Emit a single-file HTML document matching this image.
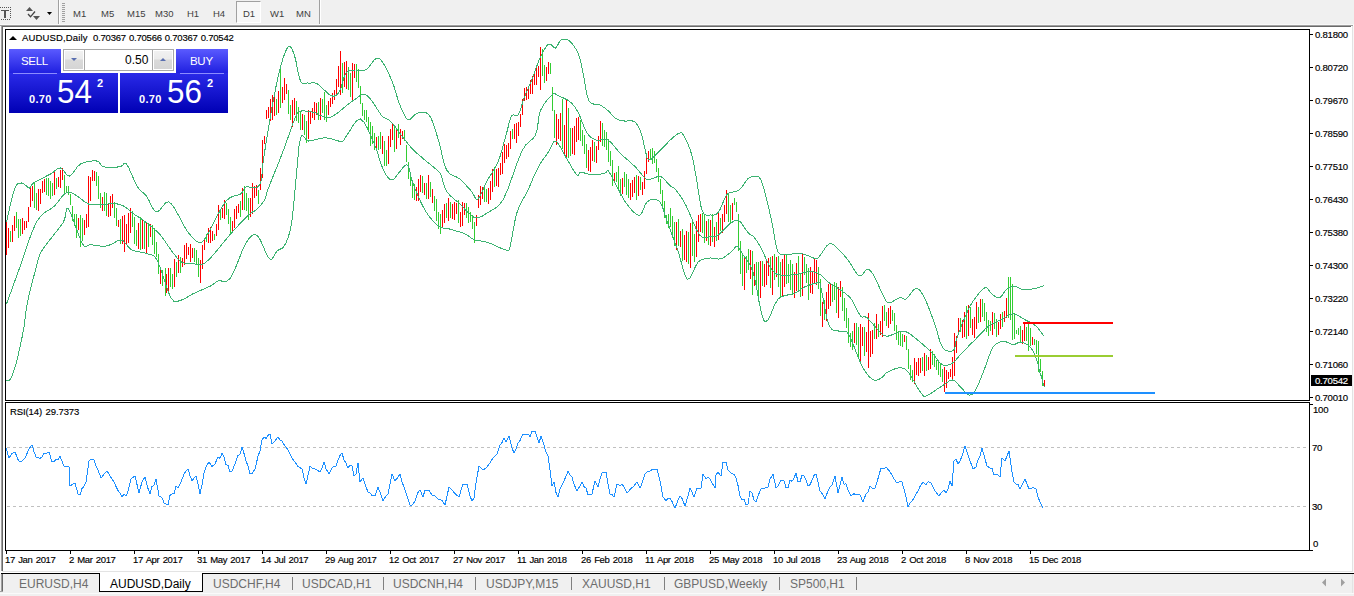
<!DOCTYPE html>
<html><head><meta charset="utf-8">
<style>
*{margin:0;padding:0;box-sizing:border-box}
html,body{width:1354px;height:596px;overflow:hidden;background:#fff;font-family:"Liberation Sans",sans-serif;position:relative}
.a{position:absolute}
.tb{left:0;top:0;width:1354px;height:25px;background:#f0f0f0}
.tf{top:9px;font-size:9.5px;color:#404040;line-height:9px}
.ax{font-size:9.6px;line-height:10px;color:#000;letter-spacing:-0.25px;-webkit-text-stroke:0.15px}
.tl{font-size:9.5px;line-height:10px;color:#000;letter-spacing:-0.35px;word-spacing:1px;-webkit-text-stroke:0.15px}
.tab{top:577px;font-size:12px;line-height:14px;color:#6d6d6d}
</style></head><body>
<!-- toolbar -->
<div class="a tb"></div>
<div class="a" style="left:0;top:25px;width:1353px;height:1px;background:#a0a0a0"></div>
<div class="a" style="left:58px;top:0;width:1px;height:25px;background:#a0a0a0"></div>
<div class="a" style="left:59px;top:0;width:1px;height:25px;background:#fff"></div>
<div class="a" style="left:319px;top:0;width:1px;height:25px;background:#a0a0a0"></div>
<div class="a" style="left:320px;top:0;width:1px;height:25px;background:#fff"></div>
<!-- T icon -->
<svg class="a" style="left:0;top:0" width="60" height="25">
<g fill="#555">
<rect x="0" y="7" width="1" height="1"/><rect x="2" y="7" width="1" height="1"/><rect x="4" y="7" width="1" height="1"/><rect x="6" y="7" width="1" height="1"/><rect x="8" y="7" width="1" height="1"/><rect x="10" y="7" width="1" height="1"/>
<rect x="10" y="9" width="1" height="1"/><rect x="10" y="11" width="1" height="1"/><rect x="10" y="13" width="1" height="1"/><rect x="10" y="15" width="1" height="1"/><rect x="10" y="17" width="1" height="1"/>
<rect x="1" y="19" width="1" height="1"/><rect x="3" y="19" width="1" height="1"/><rect x="5" y="19" width="1" height="1"/><rect x="7" y="19" width="1" height="1"/><rect x="9" y="19" width="1" height="1"/>
<rect x="1" y="10" width="8" height="1"/><rect x="4" y="10" width="2" height="8"/>
<path d="M26 11 L29.5 7 L33 11 Z"/>
<path d="M33 16 L40 16 L36.5 20 Z"/>
<path d="M28 14 L30.5 16.8 L35 11.5" stroke="#444" stroke-width="1.3" fill="none"/>
<path d="M47 12 L52 12 L49.5 15 Z" fill="#000"/>
</g>
<g fill="#999"><rect x="62" y="4" width="3" height="1"/></g>
</svg>
<svg class="a" style="left:62px;top:3px" width="3" height="20">
<g fill="#a0a0a0">
<rect x="0" y="0" width="3" height="1"/><rect x="0" y="2" width="3" height="1"/><rect x="0" y="4" width="3" height="1"/><rect x="0" y="6" width="3" height="1"/><rect x="0" y="8" width="3" height="1"/><rect x="0" y="10" width="3" height="1"/><rect x="0" y="12" width="3" height="1"/><rect x="0" y="14" width="3" height="1"/><rect x="0" y="16" width="3" height="1"/><rect x="0" y="18" width="3" height="1"/>
</g></svg>
<!-- D1 pressed -->
<div class="a" style="left:236px;top:1px;width:25px;height:22px;background:#f7f7f7;border-left:1px solid #a0a0a0;border-top:1px solid #a0a0a0;border-right:1px solid #fff;border-bottom:1px solid #fff"></div>
<div class="a tf" style="left:73px">M1</div>
<div class="a tf" style="left:101px">M5</div>
<div class="a tf" style="left:127px">M15</div>
<div class="a tf" style="left:155px">M30</div>
<div class="a tf" style="left:187px">H1</div>
<div class="a tf" style="left:213px">H4</div>
<div class="a tf" style="left:243px">D1</div>
<div class="a tf" style="left:270px">W1</div>
<div class="a tf" style="left:296px">MN</div>

<!-- MDI frame -->
<div class="a" style="left:0;top:24px;width:1354px;height:1px;background:#f8f8f8"></div>
<div class="a" style="left:0;top:26px;width:1px;height:547px;background:#f8f8f8"></div>
<div class="a" style="left:1px;top:26px;width:1px;height:545px;background:#a0a0a0"></div>
<div class="a" style="left:2px;top:26px;width:1349px;height:1px;background:#696969"></div>
<div class="a" style="left:2px;top:26px;width:1px;height:545px;background:#696969"></div>
<div class="a" style="left:1352px;top:26px;width:1px;height:546px;background:#e3e3e3"></div>
<div class="a" style="left:1353px;top:26px;width:1px;height:548px;background:#f8f8f8"></div>
<div class="a" style="left:2px;top:571px;width:1351px;height:1px;background:#e3e3e3"></div>

<!-- chart borders -->
<div class="a" style="left:5px;top:29px;width:1305px;height:372px;border:1px solid #000"></div>
<div class="a" style="left:5px;top:402px;width:1305px;height:149px;border:1px solid #000"></div>

<!-- price ticks -->
<svg class="a" style="left:0;top:0" width="1354" height="596" shape-rendering="crispEdges">
<g fill="#000">
<rect x="1310" y="34" width="3" height="1"/><rect x="1310" y="67" width="3" height="1"/><rect x="1310" y="100" width="3" height="1"/><rect x="1310" y="133" width="3" height="1"/><rect x="1310" y="166" width="3" height="1"/><rect x="1310" y="199" width="3" height="1"/><rect x="1310" y="232" width="3" height="1"/><rect x="1310" y="265" width="3" height="1"/><rect x="1310" y="298" width="3" height="1"/><rect x="1310" y="331" width="3" height="1"/><rect x="1310" y="364" width="3" height="1"/><rect x="1310" y="397" width="3" height="1"/>
<rect x="1310" y="404" width="3" height="1"/>
<rect x="1310" y="550" width="3" height="1"/>
<rect x="6" y="551" width="1" height="3"/><rect x="70" y="551" width="1" height="3"/><rect x="134" y="551" width="1" height="3"/><rect x="198" y="551" width="1" height="3"/><rect x="262" y="551" width="1" height="3"/><rect x="326" y="551" width="1" height="3"/><rect x="390" y="551" width="1" height="3"/><rect x="454" y="551" width="1" height="3"/><rect x="518" y="551" width="1" height="3"/><rect x="582" y="551" width="1" height="3"/><rect x="646" y="551" width="1" height="3"/><rect x="710" y="551" width="1" height="3"/><rect x="774" y="551" width="1" height="3"/><rect x="838" y="551" width="1" height="3"/><rect x="902" y="551" width="1" height="3"/><rect x="966" y="551" width="1" height="3"/><rect x="1030" y="551" width="1" height="3"/>
</g>
<g stroke="#c0c0c0" stroke-dasharray="3,3" stroke-width="1">
<line x1="7" y1="447.5" x2="1309" y2="447.5"/>
<line x1="7" y1="506.5" x2="1309" y2="506.5"/>
</g>
</svg>

<svg width="1354" height="596" style="position:absolute;left:0;top:0" shape-rendering="crispEdges">
<path d="M6.5 222v33M8.5 228v20M12.5 225v17M14.5 216v15M22.5 218v16M24.5 221v9M26.5 221v7M28.5 207v15M30.5 187v20M32.5 186v15M38.5 189v22M40.5 189v15M42.5 181v12M44.5 179v13M54.5 172v23M58.5 177v10M60.5 170v18M62.5 168v12M78.5 218v12M84.5 220v15M86.5 214v14M88.5 176v51M90.5 177v24M92.5 170v11M94.5 171v10M102.5 197v14M108.5 203v14M110.5 196v20M112.5 194v14M118.5 220v7M122.5 216v28M124.5 215v37M126.5 224v20M128.5 213v30M130.5 208v25M138.5 223v26M142.5 219v30M146.5 222v32M150.5 224v13M160.5 267v17M166.5 274v19M168.5 268v23M174.5 259v28M178.5 255v18M182.5 258v9M184.5 245v20M186.5 243v16M188.5 247v8M190.5 244v18M192.5 248v10M200.5 260v23M202.5 245v24M204.5 238v12M208.5 228v15M210.5 227v16M212.5 231v10M216.5 224v12M218.5 205v25M222.5 208v10M224.5 200v19M232.5 221v11M234.5 209v19M236.5 206v13M238.5 204v9M242.5 188v22M250.5 198v19M252.5 183v31M254.5 186v12M256.5 185v11M260.5 168v22M262.5 140v38M264.5 136v8M266.5 110v9M268.5 107v11M270.5 99v22M272.5 95v25M274.5 97v19M278.5 91v22M282.5 87v16M284.5 78v22M286.5 84v10M292.5 100v27M294.5 98v17M302.5 114v16M308.5 110v29M310.5 112v12M312.5 108v10M314.5 102v18M316.5 103v12M320.5 98v22M328.5 101v14M330.5 98v9M332.5 93v11M334.5 90v10M336.5 79v15M338.5 66v21M340.5 51v44M344.5 62v25M346.5 61v28M352.5 63v37M354.5 64v14M376.5 137v13M382.5 136v18M388.5 136v28M390.5 129v18M392.5 124v16M396.5 129v20M400.5 129v16M402.5 131v8M416.5 187v14M418.5 179v22M420.5 175v17M424.5 183v12M428.5 175v24M432.5 189v14M442.5 210v18M444.5 204v19M448.5 198v23M452.5 204v15M454.5 202v18M456.5 203v11M460.5 212v15M462.5 202v24M464.5 203v12M476.5 215v11M478.5 195v13M480.5 186v19M482.5 187v12M488.5 188v16M490.5 181v19M492.5 169v23M496.5 169v17M498.5 168v19M500.5 163v12M502.5 152v22M504.5 144v19M506.5 145v14M508.5 143v14M510.5 131v18M514.5 124v15M516.5 123v20M518.5 122v14M520.5 114v13M522.5 99v16M524.5 88v13M526.5 87v13M528.5 89v10M530.5 80v14M532.5 76v18M534.5 71v14M536.5 66v19M538.5 66v11M540.5 47v43M546.5 67v14M548.5 62v12M556.5 114v31M558.5 119v20M560.5 113v28M564.5 125v30M566.5 100v58M572.5 128v26M574.5 126v29M576.5 118v24M578.5 117v23M588.5 150v21M590.5 147v25M592.5 140v21M596.5 146v17M598.5 136v14M600.5 121v21M614.5 173v9M622.5 178v16M630.5 183v17M632.5 180v17M634.5 177v16M638.5 176v20M642.5 182v13M644.5 171v18M646.5 158v16M648.5 151v11M676.5 222v28M680.5 231v16M684.5 235v25M686.5 231v31M690.5 223v45M696.5 221v36M698.5 215v27M700.5 214v18M706.5 221v20M710.5 220v26M714.5 227v20M718.5 212v28M722.5 214v19M724.5 205v17M726.5 190v24M732.5 203v17M744.5 258v32M750.5 250v29M754.5 264v22M760.5 261v37M764.5 264v23M766.5 260v25M768.5 258v18M772.5 256v39M776.5 257v20M782.5 259v37M784.5 255v32M794.5 272v26M796.5 263v28M802.5 254v42M810.5 267v26M812.5 271v23M814.5 258v26M816.5 260v25M822.5 302v25M826.5 292v29M828.5 284v25M830.5 283v23M838.5 287v31M840.5 281v16M854.5 323v20M860.5 324v37M862.5 327v19M866.5 332v20M868.5 313v55M870.5 331v26M872.5 330v24M876.5 314v25M880.5 321v14M882.5 306v31M888.5 308v20M890.5 306v18M904.5 335v7M914.5 358v26M916.5 362v13M918.5 358v18M920.5 358v15M924.5 353v23M928.5 357v13M930.5 349v20M944.5 367v25M946.5 370v18M948.5 372v7M950.5 369v8M952.5 357v23M954.5 333v43M956.5 336v17M958.5 318v17M962.5 320v18M964.5 312v25M968.5 305v31M972.5 319v16M974.5 317v21M976.5 302v27M980.5 299v23M992.5 312v23M998.5 322v13M1000.5 314v15M1004.5 311v11M1006.5 298v20M1022.5 330v14M1024.5 324v17M1032.5 337v8M1044.5 380v7" stroke="#ff0000" stroke-width="1" fill="none"/>
<path d="M10.5 231v11M16.5 212v16M18.5 219v19M20.5 219v17M34.5 183v25M36.5 193v17M46.5 178v17M48.5 178v18M50.5 181v18M52.5 183v13M56.5 178v11M64.5 175v18M66.5 186v7M68.5 186v9M70.5 194v11M72.5 206v15M74.5 214v12M76.5 214v24M80.5 215v32M82.5 218v23M96.5 172v14M98.5 176v23M100.5 193v15M104.5 192v19M106.5 193v23M114.5 202v16M116.5 208v18M120.5 219v25M132.5 211v16M134.5 217v27M136.5 230v16M140.5 217v33M144.5 221v28M148.5 223v24M152.5 225v20M154.5 228v26M156.5 242v15M158.5 254v20M162.5 270v16M165.5 268v28M170.5 268v19M172.5 274v15M176.5 262v15M180.5 257v16M194.5 248v14M196.5 250v15M198.5 258v19M206.5 234v8M214.5 234v6M220.5 209v11M226.5 203v12M228.5 209v15M230.5 217v18M240.5 201v16M244.5 186v24M246.5 193v18M248.5 198v22M258.5 190v14M276.5 99v16M280.5 67v41M288.5 90v24M290.5 105v15M296.5 101v20M298.5 107v16M300.5 112v18M304.5 115v20M306.5 121v22M318.5 102v18M322.5 99v14M324.5 92v28M326.5 105v17M342.5 63v30M348.5 67v23M350.5 73v24M356.5 64v18M358.5 69v19M360.5 86v18M362.5 103v13M364.5 110v10M366.5 110v12M368.5 117v15M370.5 122v24M372.5 126v18M374.5 133v17M378.5 136v14M380.5 132v17M384.5 141v25M386.5 150v16M394.5 127v25M398.5 124v14M404.5 130v11M406.5 145v17M408.5 162v17M410.5 175v11M412.5 180v18M414.5 184v16M422.5 176v17M426.5 183v16M430.5 182v15M434.5 196v15M436.5 199v22M438.5 212v17M440.5 214v20M446.5 203v15M450.5 202v16M458.5 200v23M466.5 203v15M468.5 207v16M470.5 212v10M472.5 215v14M474.5 222v21M484.5 185v17M486.5 189v13M494.5 167v20M512.5 129v10M542.5 49v27M544.5 65v18M550.5 63v11M552.5 87v24M554.5 110v28M562.5 99v50M568.5 108v50M570.5 128v28M580.5 120v21M582.5 130v16M584.5 135v19M586.5 144v24M594.5 142v20M602.5 123v23M604.5 130v17M606.5 132v18M608.5 139v23M610.5 151v15M612.5 160v26M616.5 172v10M618.5 166v24M620.5 179v17M624.5 172v15M626.5 174v21M628.5 179v19M636.5 175v25M640.5 177v13M650.5 149v10M652.5 148v16M654.5 151v12M656.5 159v13M658.5 168v14M660.5 179v15M662.5 190v18M664.5 201v17M666.5 215v9M668.5 214v14M670.5 208v19M672.5 216v22M674.5 222v24M678.5 219v27M682.5 229v32M688.5 232v32M692.5 219v37M694.5 234v28M702.5 213v20M704.5 215v28M708.5 219v26M712.5 214v28M716.5 222v19M720.5 218v13M728.5 194v28M730.5 205v18M734.5 198v7M736.5 202v10M738.5 214v37M740.5 241v33M742.5 254v32M746.5 256v17M748.5 249v21M752.5 251v44M756.5 262v25M758.5 262v39M762.5 261v25M770.5 257v31M774.5 254v26M778.5 256v31M780.5 262v36M786.5 255v29M788.5 264v19M790.5 260v30M792.5 264v31M798.5 256v34M800.5 273v24M804.5 257v18M806.5 264v19M808.5 268v32M818.5 267v22M820.5 279v37M824.5 300v20M832.5 285v17M834.5 282v18M836.5 283v30M842.5 287v24M844.5 298v23M846.5 308v20M848.5 318v25M850.5 333v14M852.5 331v19M856.5 323v22M858.5 327v31M864.5 327v29M874.5 323v16M878.5 324v13M884.5 305v16M886.5 312v14M892.5 310v11M894.5 313v18M896.5 325v15M898.5 331v14M900.5 332v14M902.5 334v13M906.5 336v14M908.5 349v20M910.5 365v15M912.5 370v12M922.5 357v14M926.5 355v16M932.5 351v14M934.5 354v13M936.5 360v10M938.5 362v13M940.5 363v14M942.5 369v13M960.5 318v14M966.5 306v33M970.5 307v21M978.5 307v16M982.5 299v18M984.5 303v18M986.5 312v20M988.5 320v16M990.5 321v10M994.5 313v16M996.5 319v18M1002.5 312v15M1008.5 277v41M1010.5 277v43M1012.5 284v56M1014.5 313v26M1016.5 330v4M1018.5 328v7M1020.5 326v16M1026.5 327v14M1028.5 324v27M1030.5 328v18M1034.5 339v6M1036.5 340v14M1038.5 341v31M1040.5 359v13M1042.5 371v15" stroke="#32cd32" stroke-width="1" fill="none"/>
<g shape-rendering="crispEdges" fill="none" stroke="#3cb371" stroke-width="1">
<polyline points="6.5,222.0 8.0,215.4 10.1,205.9 12.4,196.1 14.5,189.0 16.3,185.3 18.0,183.6 19.7,183.1 21.5,183.0 23.5,183.7 25.7,185.4 27.8,187.2 29.5,188.0 30.5,187.5 30.9,186.4 31.7,184.8 33.5,183.0 37.0,181.0 41.6,178.6 46.4,176.1 50.5,174.0 53.5,172.0 56.0,169.9 58.2,168.4 60.5,168.0 62.8,169.5 64.9,172.4 67.1,175.1 69.5,176.0 72.0,174.2 74.6,170.7 77.4,166.8 80.5,164.0 84.3,162.4 88.7,161.4 93.0,160.9 96.5,161.0 98.8,162.0 100.2,163.7 101.6,165.6 103.9,166.8 107.5,167.3 112.0,167.3 116.4,167.1 120.0,166.8 122.2,165.7 123.6,164.0 124.8,163.0 126.5,164.0 129.0,168.3 131.8,174.8 134.8,181.6 137.5,187.0 139.9,190.1 142.1,191.9 144.2,193.6 146.5,196.0 148.8,200.1 151.2,205.2 153.7,209.7 156.3,212.0 159.2,210.7 162.3,206.9 165.4,203.1 168.4,201.7 171.2,203.6 174.0,207.5 176.6,212.2 179.1,216.5 181.2,220.2 183.1,224.0 185.0,227.6 187.1,231.0 189.7,234.3 192.5,237.7 195.4,240.4 197.9,242.0 199.7,242.8 201.1,243.0 202.8,241.6 205.5,238.0 209.7,230.5 215.0,220.0 220.6,209.4 225.5,201.6 229.8,197.7 233.9,196.0 237.5,195.2 240.5,194.0 242.4,192.0 243.5,190.0 244.4,188.2 245.9,187.0 248.2,186.8 251.0,187.3 253.7,187.9 256.0,187.7 257.7,186.9 259.0,185.6 260.1,183.8 261.0,181.0 261.6,177.7 262.0,173.8 262.4,168.5 263.3,161.0 264.9,150.2 267.0,136.9 269.3,122.9 271.5,110.0 273.7,98.2 276.0,86.6 278.3,76.0 280.5,67.0 282.6,59.6 284.7,53.5 286.7,49.0 288.5,46.5 290.1,46.3 291.6,48.2 293.0,51.5 294.5,55.6 296.0,61.4 297.4,68.7 298.9,75.9 300.5,81.0 302.1,83.2 303.8,83.5 305.5,83.1 307.5,83.0 309.7,83.1 312.1,82.9 314.7,83.0 317.5,84.0 320.8,86.6 324.5,90.2 328.1,93.7 331.2,95.8 333.7,96.2 335.7,95.7 337.5,94.1 339.3,91.7 341.0,87.7 342.6,82.3 344.2,76.9 346.0,73.0 348.2,71.1 350.5,70.4 353.0,70.2 355.5,70.0 358.1,70.0 360.7,70.4 363.4,70.5 366.1,69.7 368.9,67.1 371.7,63.3 374.4,59.8 376.9,58.0 379.1,58.4 381.1,60.2 383.0,62.9 384.9,66.0 387.0,69.8 389.1,74.3 391.2,79.1 393.0,83.7 394.5,87.9 395.7,92.1 396.9,96.2 398.1,100.0 399.4,103.7 400.8,107.3 402.2,110.6 403.5,113.4 404.8,115.8 406.0,118.0 407.3,119.4 408.8,120.0 410.5,119.1 412.4,117.0 414.5,114.8 416.9,113.4 419.7,112.6 422.9,112.1 426.1,112.6 429.0,114.8 431.6,119.3 433.9,125.6 436.2,132.8 438.4,140.0 440.4,147.6 442.2,155.9 444.1,163.7 446.5,169.8 449.5,173.5 452.9,175.5 456.5,177.0 459.8,179.0 462.9,181.9 465.9,185.1 468.7,188.2 471.2,191.0 473.1,193.9 474.7,196.9 476.1,199.0 477.9,199.0 480.0,196.2 482.3,191.4 484.8,185.8 487.3,180.5 490.0,176.0 492.8,171.6 495.6,167.0 498.1,161.7 500.4,155.4 502.4,148.4 504.3,141.3 506.1,135.0 507.6,129.3 508.9,123.9 510.1,119.3 511.5,116.0 513.1,114.8 514.8,115.3 516.5,115.8 518.2,114.8 519.8,111.5 521.3,107.0 522.8,101.9 524.5,97.0 526.4,92.4 528.4,87.7 530.5,82.9 532.5,78.0 534.5,72.7 536.5,67.0 538.5,61.6 540.5,56.8 542.6,52.6 544.7,48.8 546.8,45.8 548.8,44.0 550.6,44.1 552.3,45.7 554.0,47.5 555.5,48.0 556.9,46.6 558.1,44.2 559.4,41.7 560.9,40.0 562.7,39.3 564.7,39.0 566.8,39.4 569.0,40.7 571.4,42.9 573.9,46.0 576.3,49.8 578.4,54.0 580.0,58.7 581.2,64.0 582.3,69.7 583.5,75.6 584.7,82.2 585.9,89.4 587.3,96.1 589.1,101.0 591.5,103.5 594.3,104.2 597.2,104.4 599.8,105.0 602.0,106.2 604.0,107.5 605.9,108.9 607.9,110.5 609.9,112.5 611.9,114.7 613.9,116.9 615.9,118.6 618.0,119.6 620.1,120.3 622.3,120.7 624.5,121.0 626.9,121.0 629.4,120.8 631.9,120.8 634.1,121.5 636.0,123.1 637.6,125.2 639.1,127.9 640.5,131.0 641.7,134.8 642.8,139.3 643.8,143.9 644.8,148.0 645.7,151.8 646.4,155.6 647.3,158.6 648.8,160.0 651.0,159.3 653.7,156.9 656.7,153.9 659.5,151.0 662.3,148.3 665.1,145.3 667.8,142.5 670.3,140.0 672.6,137.9 674.7,136.0 676.6,134.5 678.4,133.6 679.8,133.0 680.9,132.6 682.1,133.2 683.5,135.0 685.4,138.5 687.7,143.4 689.9,149.1 691.8,155.0 693.3,161.1 694.5,167.7 695.7,174.5 696.9,181.5 698.1,189.3 699.4,197.7 700.7,205.3 702.2,211.0 704.0,213.9 706.1,215.0 708.2,215.1 710.3,215.0 712.3,215.1 714.3,215.0 716.4,214.2 718.4,212.3 720.5,208.7 722.5,203.7 724.6,198.7 726.5,195.0 728.3,193.2 729.9,192.6 731.5,192.4 733.1,192.0 734.7,191.5 736.4,191.2 738.0,190.7 739.8,189.5 741.8,187.2 743.9,184.1 746.0,181.1 747.9,178.8 749.5,177.6 751.0,176.9 752.4,176.7 753.9,176.7 755.5,176.5 757.1,176.3 758.8,176.9 760.5,179.0 762.2,183.3 764.0,189.1 765.7,195.7 767.3,202.0 768.7,208.0 770.1,214.0 771.4,220.2 772.7,226.4 773.9,233.2 775.1,240.5 776.4,247.1 778.1,251.9 780.5,254.3 783.3,254.9 786.2,254.8 788.8,254.6 790.9,254.4 792.9,253.8 794.8,253.2 796.9,253.0 799.4,253.3 802.2,253.9 805.0,254.7 807.5,255.4 809.8,256.3 812.0,257.3 814.0,258.2 815.7,258.6 816.9,258.6 817.6,258.3 818.4,257.5 819.7,256.0 821.7,253.2 824.2,249.5 826.7,245.9 829.1,243.8 831.1,243.5 833.0,244.3 834.9,245.9 837.1,247.9 839.6,250.3 842.3,253.2 845.1,256.5 847.9,260.0 850.8,264.3 853.8,269.2 856.7,273.5 859.3,276.0 861.6,275.5 863.6,273.1 865.5,270.3 867.3,269.0 869.0,269.5 870.6,270.8 872.2,273.0 874.1,276.0 876.4,280.5 878.9,286.2 881.4,292.0 883.5,296.4 885.0,299.3 886.1,301.3 887.2,302.5 888.8,303.0 891.2,302.4 894.1,300.7 897.0,298.8 899.5,297.7 901.4,297.8 903.0,298.7 904.5,299.4 906.3,299.0 908.5,296.7 910.9,293.2 913.4,289.9 915.7,288.3 917.7,288.6 919.6,290.0 921.5,292.6 923.7,296.4 926.3,301.8 929.1,308.8 931.9,316.2 934.5,323.2 936.6,329.9 938.5,336.8 940.4,342.9 942.5,347.4 945.2,350.0 948.2,351.2 951.1,351.3 953.3,350.6 954.5,349.0 955.1,346.5 955.5,343.2 956.5,339.3 958.2,334.5 960.3,328.9 962.5,323.1 964.7,317.9 966.6,313.4 968.5,309.3 970.4,305.5 972.7,301.7 975.6,297.6 978.8,293.4 982.1,289.8 984.8,287.8 986.8,287.9 988.4,289.6 989.9,291.9 991.5,293.7 993.4,295.1 995.5,296.6 997.6,297.6 999.5,297.7 1001.3,296.4 1002.9,294.2 1004.5,291.7 1006.3,289.7 1008.2,288.3 1010.1,287.2 1012.2,286.5 1014.3,286.2 1016.5,286.7 1018.7,287.8 1021.1,289.0 1023.7,289.7 1026.6,289.7 1029.8,289.4 1033.0,288.9 1035.8,288.3 1038.3,287.7 1040.6,286.9 1042.5,286.1 1043.9,285.6"/>
<polyline points="6.5,304.0 8.5,298.4 11.4,290.6 14.8,281.1 18.5,271.0 22.6,259.1 27.1,245.4 31.9,232.3 36.5,222.0 41.1,215.6 45.8,211.8 50.3,209.1 54.5,206.0 58.1,201.8 61.4,197.2 64.7,193.6 68.5,192.0 73.2,193.4 78.6,197.1 83.9,201.2 88.5,204.0 92.0,204.9 94.9,204.9 97.8,204.6 101.2,204.4 105.6,204.2 110.6,203.8 115.5,203.7 120.0,204.4 123.8,206.1 127.1,208.5 130.3,211.2 133.5,213.8 136.9,216.0 140.2,218.2 143.6,220.5 146.9,223.0 150.3,225.7 153.8,228.6 157.1,231.7 160.3,235.0 163.2,238.6 165.8,242.5 168.4,246.4 171.0,250.0 173.6,253.5 176.2,256.8 178.8,259.8 181.5,262.0 184.3,263.1 187.2,263.4 189.9,263.4 192.5,263.5 194.7,264.0 196.6,264.7 198.4,265.0 200.5,264.8 202.6,264.1 204.8,263.0 207.2,261.1 210.5,258.0 214.8,253.1 220.0,246.8 225.4,240.1 230.5,234.0 235.4,228.6 240.3,223.3 244.8,218.6 248.5,215.0 251.1,212.9 252.8,211.9 254.3,211.3 256.0,210.0 258.2,207.9 260.5,205.4 262.7,202.8 264.5,200.0 265.6,197.8 266.1,195.8 266.8,192.9 268.5,188.0 271.5,180.2 275.5,170.4 279.7,159.9 283.5,150.0 287.0,140.4 290.4,130.7 293.5,121.9 296.1,115.5 297.8,112.1 298.8,111.0 299.8,111.0 301.5,111.0 304.4,110.9 308.0,111.3 311.6,112.0 314.5,112.6 316.4,113.2 317.6,114.0 318.8,114.8 320.5,115.4 322.7,116.2 325.2,117.1 328.0,117.6 331.2,117.0 335.0,114.8 339.4,111.5 343.7,107.9 347.3,105.0 349.9,103.0 351.9,101.5 353.6,100.3 355.5,99.0 357.5,97.5 359.5,96.0 361.5,94.8 363.5,94.4 365.4,94.8 367.2,95.9 369.1,97.6 371.2,100.0 373.7,103.5 376.6,108.0 379.4,112.5 382.0,116.0 384.2,117.8 386.2,118.6 388.1,119.4 390.3,121.0 392.8,123.8 395.5,127.3 398.3,131.1 401.0,134.7 403.6,138.1 406.2,141.6 408.8,144.9 411.5,148.0 414.2,150.8 417.0,153.3 419.8,155.6 422.5,158.0 425.3,160.4 428.1,162.7 430.9,164.9 433.3,167.0 435.4,168.6 437.2,170.0 438.9,171.6 440.5,174.0 441.9,177.7 443.1,182.3 444.5,187.1 446.5,191.3 449.5,194.9 453.1,198.2 456.8,201.2 460.0,204.0 462.5,206.6 464.6,208.9 466.5,210.9 468.5,212.8 470.5,214.6 472.4,216.3 474.3,217.5 476.5,218.0 478.9,217.6 481.4,216.6 484.2,214.9 487.3,212.8 490.9,210.8 494.9,208.6 499.2,205.1 503.5,199.0 508.1,188.6 512.9,175.0 517.7,161.4 522.0,150.8 525.9,144.8 529.6,141.4 532.8,138.8 535.5,135.0 537.2,129.3 538.1,122.8 539.0,116.2 540.5,110.5 543.2,105.5 546.5,100.8 549.8,97.0 552.5,94.4 554.2,93.4 555.3,93.7 556.5,94.7 558.2,95.8 560.9,96.9 564.1,98.3 567.4,100.0 570.3,102.0 572.6,104.2 574.6,106.7 576.5,109.6 578.4,113.0 580.4,117.4 582.4,122.7 584.4,127.8 586.5,132.0 588.7,135.0 590.9,137.2 593.2,138.8 595.8,140.0 598.6,140.2 601.6,139.7 604.8,139.2 607.9,140.0 611.0,142.4 614.0,145.9 617.2,149.8 620.5,153.5 624.2,156.9 628.1,160.3 631.9,163.7 635.4,167.0 638.4,170.4 641.2,173.9 643.7,177.0 646.1,179.0 648.3,179.7 650.4,179.3 652.3,178.5 654.2,177.9 655.9,177.3 657.5,176.5 659.1,176.1 660.9,176.5 663.2,178.2 665.7,180.9 668.2,183.8 670.3,186.0 671.7,187.0 672.8,187.3 673.8,187.9 675.4,189.5 677.6,192.3 680.2,195.9 683.1,200.3 686.1,205.6 689.3,212.7 692.8,221.2 696.3,229.3 699.5,235.0 702.4,237.4 705.2,237.7 707.9,237.0 710.3,236.5 712.5,236.5 714.4,236.5 716.3,236.1 718.4,235.0 720.9,232.8 723.7,229.9 726.5,226.8 729.1,224.4 731.5,222.6 733.9,221.0 736.2,220.1 738.5,220.4 740.9,222.5 743.4,225.9 745.8,229.6 747.9,232.5 749.6,234.0 751.1,234.9 752.4,235.7 753.9,237.0 755.4,238.9 757.0,241.1 758.6,243.7 760.5,247.0 762.7,251.5 765.2,256.9 767.7,262.3 770.0,266.6 771.9,269.6 773.6,271.9 775.5,273.5 778.1,274.7 781.6,275.3 785.8,275.4 790.2,275.1 794.2,274.7 797.8,274.1 801.2,273.3 804.4,272.4 807.5,272.0 810.4,271.9 813.1,271.9 815.7,272.4 818.4,273.4 821.1,275.3 823.8,277.8 826.4,280.5 829.1,282.8 831.8,284.6 834.4,286.1 837.1,287.7 839.8,289.5 842.6,291.5 845.6,293.6 848.5,296.0 851.2,299.0 853.7,303.1 856.1,308.0 858.4,312.6 860.5,316.0 862.2,317.2 863.5,316.9 865.0,316.7 867.3,317.9 870.8,321.6 875.2,326.8 879.6,331.9 883.5,335.3 886.6,336.3 889.2,335.9 891.7,334.9 894.2,334.0 896.8,333.1 899.4,332.0 902.0,331.2 904.9,331.3 908.1,332.7 911.5,335.1 915.0,337.9 918.4,340.7 921.8,343.5 925.3,346.6 928.6,349.7 931.8,352.8 934.7,356.1 937.4,359.7 939.9,362.8 942.5,364.8 945.1,365.5 947.6,365.3 950.1,364.4 952.5,363.0 954.8,361.1 957.0,358.6 959.4,355.8 962.0,352.8 965.1,349.7 968.5,346.2 972.0,342.7 975.5,339.3 978.8,335.8 982.2,332.2 985.5,328.8 988.8,325.9 992.2,323.7 995.7,322.1 999.0,320.6 1002.2,319.2 1005.0,317.5 1007.6,315.7 1010.2,314.3 1013.0,313.8 1016.3,314.7 1019.8,316.5 1023.3,318.6 1026.4,320.5 1029.1,321.8 1031.4,323.0 1033.6,324.2 1035.8,325.9 1038.1,328.3 1040.4,331.3 1042.5,334.1 1043.9,336.0"/>
<polyline points="6.5,380.0 7.2,380.2 8.1,380.6 9.3,380.4 10.5,379.0 11.8,376.2 13.3,372.4 14.9,367.7 16.5,362.0 18.2,355.0 20.1,346.7 21.9,338.1 23.5,330.0 24.6,322.8 25.4,316.0 26.3,309.2 27.5,302.0 29.3,293.9 31.4,285.3 33.6,277.0 35.5,270.0 36.8,264.6 37.9,260.4 39.0,256.7 40.5,253.0 42.6,249.4 45.0,246.0 47.7,242.6 50.5,239.0 53.7,234.9 57.3,230.4 60.7,226.0 63.5,222.0 65.1,217.3 65.9,212.2 66.8,208.8 68.5,209.0 71.5,215.2 75.3,225.6 79.2,236.5 82.5,244.0 84.7,246.6 86.4,246.5 88.1,245.3 90.5,244.7 94.0,245.2 98.2,245.8 102.5,246.2 106.5,246.0 110.2,244.8 113.9,242.9 117.2,241.0 120.0,240.0 121.9,240.1 123.2,240.9 124.2,242.1 125.5,243.4 126.8,244.9 128.1,246.7 129.8,248.5 132.1,250.0 135.6,251.1 140.0,252.0 144.4,252.9 148.2,254.0 150.9,254.8 153.0,255.3 155.0,256.9 157.5,260.8 160.6,268.8 164.2,279.7 167.7,290.5 171.0,298.0 173.8,301.2 176.4,301.7 178.9,300.9 181.5,300.0 184.1,299.1 186.5,297.6 189.2,295.8 192.5,294.0 196.7,292.1 201.7,289.9 206.6,287.8 210.5,286.0 213.0,284.5 214.7,283.2 216.2,282.0 218.2,281.0 220.9,280.9 223.9,281.4 227.1,281.0 230.5,278.0 234.2,270.9 238.3,260.8 242.3,250.6 245.9,243.0 249.0,238.5 251.7,235.6 254.4,234.6 257.2,235.5 260.3,239.9 263.6,247.3 266.7,254.6 269.5,259.0 271.8,259.1 273.8,256.6 275.6,253.2 277.4,250.6 279.2,249.5 281.0,248.8 282.8,247.8 284.5,245.6 286.3,242.1 288.0,237.8 289.7,232.3 291.2,225.5 292.4,217.0 293.5,206.9 294.4,196.1 295.5,185.0 296.6,172.5 297.8,158.8 299.0,146.4 300.5,138.0 302.1,135.4 303.9,136.8 306.0,139.5 308.5,141.0 311.8,140.6 315.8,139.6 319.8,138.6 323.1,138.0 325.5,137.9 327.4,138.0 329.1,138.3 331.2,138.7 333.8,139.5 336.8,140.5 339.6,141.3 342.0,141.4 343.5,140.6 344.5,139.2 345.5,137.2 347.3,134.7 350.0,130.5 353.4,124.9 357.0,120.3 360.5,119.0 363.9,122.1 367.4,128.3 370.8,135.9 373.9,143.0 376.6,149.9 378.9,157.3 381.1,164.2 383.3,169.8 385.4,173.9 387.5,177.0 389.5,179.0 391.4,180.0 393.2,179.6 394.8,178.0 396.5,175.9 398.1,173.8 399.8,171.7 401.6,169.3 403.3,167.2 404.8,165.8 406.0,165.1 407.0,164.9 407.9,165.4 408.8,167.0 409.6,169.7 410.3,173.4 411.2,177.9 412.8,183.0 415.2,189.2 418.3,196.5 421.6,203.8 424.9,210.0 428.2,215.1 431.7,219.5 435.2,223.2 438.4,226.0 441.1,227.6 443.6,228.1 446.1,228.3 449.1,228.9 452.9,230.0 457.3,231.3 461.6,232.6 465.2,234.0 467.8,235.4 469.7,236.9 471.6,238.4 473.9,239.6 476.8,240.4 480.0,240.8 483.5,241.3 487.3,242.3 492.0,244.1 497.3,246.6 502.3,248.8 506.1,250.0 508.1,250.5 508.9,250.6 509.3,249.3 510.2,246.0 511.6,239.5 513.1,230.5 514.9,221.0 516.9,212.8 519.3,206.6 521.9,201.3 524.7,196.3 527.5,191.0 530.2,185.0 532.9,178.6 535.7,172.5 538.4,167.0 541.2,162.3 544.0,158.1 546.7,154.4 549.1,151.0 550.9,147.4 552.4,143.8 553.9,141.3 555.8,141.0 558.4,143.8 561.5,148.9 564.6,154.9 567.5,160.0 570.2,164.4 572.7,168.9 575.1,172.6 577.0,175.0 578.2,175.4 578.8,174.4 579.6,173.0 581.0,172.3 583.5,172.7 586.5,173.6 589.9,174.5 593.1,175.0 596.3,174.8 599.7,174.3 602.8,173.6 605.2,173.0 606.5,172.1 607.1,170.9 607.6,170.3 608.5,171.0 610.1,173.5 612.0,177.2 614.2,181.6 616.5,186.0 619.0,190.6 621.6,195.6 624.4,200.5 627.3,204.7 630.3,208.5 633.6,212.1 636.7,214.6 639.5,215.4 641.7,213.3 643.5,209.1 645.3,204.6 647.5,201.5 650.3,200.0 653.5,199.4 656.7,199.8 659.5,201.5 661.7,204.9 663.5,209.8 665.2,215.5 667.3,221.7 669.8,228.5 672.6,236.0 675.4,243.8 678.1,251.3 680.5,259.5 682.8,268.3 685.1,275.7 687.5,279.5 690.1,278.0 692.7,272.8 695.4,266.5 698.2,262.0 701.2,259.9 704.3,258.9 707.3,258.3 710.3,258.0 713.1,258.1 715.7,258.6 718.4,259.1 721.0,258.8 723.8,257.5 726.7,255.4 729.5,253.2 731.8,251.3 733.5,249.5 734.8,247.7 735.9,246.3 737.1,246.0 738.3,246.8 739.5,248.5 740.8,250.9 742.5,254.0 744.8,257.2 747.5,260.8 750.4,265.7 753.3,272.8 756.0,284.6 758.7,299.9 761.5,313.8 764.5,321.7 767.7,320.6 771.0,313.7 774.5,305.1 778.1,298.9 782.1,296.4 786.3,295.2 790.5,294.5 794.2,293.5 797.2,291.9 799.7,290.1 802.2,288.3 804.9,286.8 808.3,285.4 812.2,284.1 815.7,283.1 818.4,282.8 819.7,282.7 820.0,282.8 820.2,284.2 821.0,288.0 822.6,295.9 824.5,306.8 826.7,317.8 829.1,325.7 831.8,329.4 834.8,330.7 837.8,330.9 840.5,331.3 842.6,331.5 844.4,331.0 846.2,331.3 848.5,334.0 851.6,340.4 855.1,349.3 858.7,358.6 862.0,366.0 864.9,371.0 867.7,374.9 870.3,377.7 872.7,379.6 874.9,380.5 876.9,380.2 878.8,379.4 880.8,378.3 882.6,376.9 884.3,375.0 886.2,373.0 888.8,371.5 892.3,369.9 896.3,368.3 900.7,367.6 904.9,368.9 909.2,373.5 913.6,380.6 917.7,387.9 921.0,393.0 922.9,395.4 923.9,396.4 924.8,396.3 926.5,395.7 929.4,394.3 933.1,392.0 936.9,389.3 940.5,387.0 943.7,384.8 946.9,382.5 949.8,380.7 952.5,380.0 954.8,380.7 956.7,382.6 958.6,384.9 960.5,387.0 962.6,389.2 964.7,391.7 966.8,393.9 968.7,395.0 970.4,395.0 972.1,394.3 973.7,392.8 975.4,390.3 977.3,386.7 979.4,382.0 981.4,376.7 983.5,371.5 985.6,366.0 987.7,360.0 989.7,354.4 991.5,350.0 993.0,347.2 994.2,345.5 995.4,344.4 996.9,343.4 998.7,342.5 1000.7,341.8 1002.8,341.5 1004.9,341.5 1006.9,342.1 1008.9,343.1 1011.0,344.2 1013.0,344.7 1015.0,344.3 1017.0,343.3 1019.0,342.3 1021.0,342.0 1023.1,342.5 1025.3,343.5 1027.3,344.7 1029.1,346.0 1030.5,347.3 1031.6,348.7 1032.5,350.2 1033.5,352.0 1034.5,354.0 1035.4,356.2 1036.3,358.6 1037.1,361.0 1037.8,363.5 1038.4,366.2 1039.0,368.8 1039.5,371.0 1040.0,372.7 1040.5,374.1 1041.0,375.5 1041.5,377.0 1042.0,379.0 1042.6,381.2 1043.1,383.4 1043.5,385.0 1043.8,386.0 1044.1,386.5 1044.3,386.8 1044.5,387.0"/>
</g>
<rect x="1023" y="322" width="90" height="2" fill="#ff0000"/>
<rect x="1015" y="355" width="98" height="2" fill="#9acd32"/>
<rect x="945" y="392" width="210" height="2" fill="#1e90ff"/>
<polyline shape-rendering="crispEdges" points="6.0,448.0 9.0,458.0 12.0,453.3 15.0,452.0 18.0,459.4 20.0,462.0 22.0,461.1 25.0,458.0 28.0,451.4 30.0,447.4 32.0,445.0 34.0,451.6 36.0,457.0 38.0,457.4 40.0,458.3 42.0,457.0 44.0,453.2 46.0,453.5 49.0,452.0 52.0,462.0 54.0,461.8 56.0,459.0 58.0,459.6 60.0,456.0 62.0,461.3 64.0,466.0 66.0,466.1 69.0,467.0 70.0,486.0 72.0,484.6 75.0,483.0 78.0,493.9 80.0,495.0 82.0,488.4 84.0,486.4 86.0,482.0 89.0,461.0 92.0,458.8 94.0,460.0 96.0,466.1 98.0,470.0 101.0,478.0 104.0,474.2 107.0,471.0 110.0,475.8 112.0,479.2 114.0,482.0 116.0,486.6 118.0,490.6 120.0,493.0 122.0,497.0 124.0,494.1 126.0,496.0 128.0,491.4 131.0,479.0 135.0,476.0 139.0,493.0 142.0,481.9 145.0,477.0 148.0,488.5 150.0,494.0 152.0,486.3 154.0,485.4 156.0,479.0 159.0,496.0 162.0,497.7 164.0,502.9 166.0,504.0 168.0,504.7 170.0,495.3 172.0,494.0 174.0,493.7 176.0,486.0 178.0,487.6 180.0,484.0 182.0,479.4 184.0,474.0 186.0,471.2 188.0,469.0 190.0,475.7 192.0,481.0 194.0,478.3 196.0,476.0 198.0,483.7 200.0,494.0 202.0,484.9 204.0,473.0 206.0,466.7 209.0,462.0 212.0,466.6 215.0,464.0 218.0,456.8 220.0,458.3 222.0,453.0 224.0,456.7 226.0,464.4 228.0,465.5 230.0,472.0 232.0,471.1 235.0,464.0 238.0,455.4 240.0,454.3 242.0,447.0 244.0,453.4 246.0,460.9 248.0,466.0 250.0,474.0 252.0,473.7 255.0,469.0 258.0,456.4 260.0,450.7 262.0,440.0 264.0,436.8 266.0,438.6 268.0,435.4 270.0,434.0 272.0,444.0 274.0,442.1 276.0,439.4 278.0,437.0 280.0,439.8 282.0,441.2 285.0,446.0 288.0,449.9 290.0,453.9 292.0,458.1 295.0,462.0 298.0,466.7 300.0,467.5 302.0,469.0 304.0,477.7 306.0,484.0 308.0,475.5 310.0,466.0 312.0,467.9 315.0,469.0 318.0,470.7 320.0,472.0 322.0,468.1 324.0,462.0 326.0,468.7 329.0,474.0 332.0,467.9 334.0,466.0 336.0,466.0 338.0,460.0 340.0,455.4 342.0,453.0 344.0,459.9 346.0,463.3 348.0,468.0 350.0,465.3 352.0,466.0 354.0,476.0 356.0,473.8 358.0,463.0 360.0,482.0 363.0,478.0 366.0,486.8 368.0,492.0 370.0,493.2 372.0,495.3 375.0,496.0 378.0,487.0 380.0,492.3 383.0,501.0 386.0,495.7 388.0,494.0 390.0,484.4 392.0,474.0 395.0,481.0 398.0,477.1 400.0,474.0 402.0,481.9 404.0,487.0 406.0,493.3 408.0,498.9 410.0,505.0 412.0,505.3 415.0,501.0 418.0,492.4 420.0,490.0 423.0,497.0 425.0,490.0 429.0,490.0 432.0,495.1 435.0,496.0 438.0,499.2 440.0,499.8 442.0,500.1 445.0,505.0 449.0,487.0 452.0,489.8 454.0,492.4 456.0,494.5 459.0,497.0 463.0,484.0 467.0,484.0 470.0,496.1 472.0,501.0 474.0,498.0 476.0,482.8 479.0,466.0 482.0,469.0 484.0,469.4 487.0,467.0 490.0,462.8 493.0,458.0 497.0,454.0 500.0,445.0 502.0,442.6 504.0,437.9 506.0,441.7 509.0,436.0 512.0,448.1 514.0,453.0 516.0,449.2 518.0,443.0 520.0,440.5 523.0,434.0 526.0,434.2 528.0,434.0 530.0,436.5 532.0,431.5 535.0,431.0 539.0,443.0 541.0,436.0 544.0,445.1 546.0,452.2 548.0,456.0 550.0,469.9 552.0,486.0 554.0,482.0 556.0,492.6 558.0,497.0 560.0,488.9 563.0,483.0 566.0,476.4 568.0,471.0 570.0,474.7 572.0,477.0 574.0,484.2 577.0,491.0 580.0,485.7 582.0,482.0 584.0,486.7 586.0,487.9 588.0,495.0 590.0,494.9 592.0,494.0 595.0,481.0 598.0,487.0 600.0,479.0 602.0,473.0 604.0,472.3 606.0,472.0 608.0,483.9 610.0,494.0 612.0,494.6 614.0,497.0 617.0,484.0 620.0,485.6 622.0,484.0 624.0,486.9 627.0,493.0 630.0,489.6 632.0,487.7 634.0,485.8 637.0,482.0 640.0,488.0 642.0,483.4 645.0,474.0 648.0,471.0 650.0,471.1 653.0,469.0 657.0,469.0 660.0,481.0 663.0,497.0 666.0,500.7 668.0,498.1 670.0,498.0 672.0,501.5 675.0,508.0 678.0,500.4 680.0,496.0 682.0,498.5 685.0,506.0 688.0,496.2 690.0,488.0 692.0,492.3 694.0,497.0 697.0,488.0 701.0,488.0 703.0,474.0 706.0,479.0 708.0,477.0 710.0,478.9 712.0,482.8 715.0,488.0 716.0,475.0 718.0,472.2 721.0,476.0 723.0,462.0 726.0,462.0 728.0,470.0 731.0,473.0 734.0,474.5 736.0,478.0 738.0,485.5 740.0,496.0 742.0,500.0 744.0,499.2 746.0,505.0 748.0,504.2 750.0,491.0 752.0,493.1 754.0,499.9 756.0,502.0 758.0,495.8 761.0,489.0 765.0,488.0 768.0,487.0 770.0,479.3 773.0,474.0 776.0,488.0 778.0,485.9 781.0,480.0 784.0,480.7 786.0,487.9 788.0,488.0 790.0,480.2 792.0,481.3 794.0,478.1 796.0,473.0 798.0,482.0 800.0,481.6 802.0,475.5 804.0,476.0 806.0,480.1 808.0,486.0 810.0,484.7 812.0,480.4 814.0,475.4 816.0,474.0 818.0,482.3 820.0,491.0 822.0,493.3 825.0,499.0 828.0,490.9 830.0,487.2 832.0,484.8 835.0,476.0 838.0,493.0 840.0,485.0 842.0,477.0 844.0,484.1 846.0,483.9 848.0,490.3 851.0,496.0 854.0,493.5 856.0,495.2 858.0,494.0 860.0,495.0 863.0,502.0 866.0,493.7 868.0,492.2 870.0,486.0 872.0,488.0 875.0,488.0 878.0,478.6 881.0,468.0 884.0,469.0 886.0,467.0 888.0,469.4 890.0,471.9 893.0,477.0 896.0,482.0 898.0,482.5 900.0,481.2 902.0,482.0 904.0,489.2 906.0,496.9 908.0,507.0 910.0,502.7 912.0,501.3 915.0,496.0 918.0,490.7 920.0,486.6 923.0,482.0 926.0,484.7 928.0,481.7 931.0,483.0 934.0,489.1 936.0,492.2 939.0,496.0 942.0,492.0 944.0,490.2 946.0,492.6 948.0,489.0 950.0,481.0 952.0,486.0 954.0,461.0 956.0,459.0 958.0,463.8 960.0,461.0 962.0,456.0 965.0,446.0 969.0,458.0 973.0,469.0 976.0,467.0 978.0,459.7 980.0,456.2 982.0,448.0 984.0,455.3 987.0,466.0 990.0,468.0 992.0,468.5 994.0,475.0 997.0,474.0 1000.0,477.0 1002.0,458.0 1005.0,461.0 1009.0,451.0 1012.0,472.1 1014.0,482.0 1016.0,484.0 1018.0,484.3 1020.0,489.0 1022.0,485.0 1025.0,479.0 1029.0,489.0 1032.0,488.0 1034.0,487.9 1036.0,489.0 1038.0,496.9 1040.0,502.0 1043.0,508.0" fill="none" stroke="#1e90ff" stroke-width="1"/>
</svg>

<!-- price labels -->
<div class="a ax" style="left:1315px;top:30px">0.81800</div>
<div class="a ax" style="left:1315px;top:63px">0.80720</div>
<div class="a ax" style="left:1315px;top:96px">0.79670</div>
<div class="a ax" style="left:1315px;top:129px">0.78590</div>
<div class="a ax" style="left:1315px;top:162px">0.77510</div>
<div class="a ax" style="left:1315px;top:195px">0.76430</div>
<div class="a ax" style="left:1315px;top:228px">0.75380</div>
<div class="a ax" style="left:1315px;top:261px">0.74300</div>
<div class="a ax" style="left:1315px;top:294px">0.73220</div>
<div class="a ax" style="left:1315px;top:327px">0.72140</div>
<div class="a ax" style="left:1315px;top:360px">0.71060</div>
<div class="a ax" style="left:1315px;top:393px">0.70010</div>
<div class="a" style="left:1311px;top:375px;width:41px;height:11px;background:#000"></div>
<div class="a ax" style="left:1315px;top:376px;color:#fff">0.70542</div>
<div class="a ax" style="left:1313px;top:405px">100</div>
<div class="a ax" style="left:1312px;top:443px">70</div>
<div class="a ax" style="left:1312px;top:502px">30</div>
<div class="a ax" style="left:1313px;top:539px">0</div>

<!-- time labels -->
<div class="a tl" style="left:5px;top:555px">17 Jan 2017</div>
<div class="a tl" style="left:69px;top:555px">2 Mar 2017</div>
<div class="a tl" style="left:133px;top:555px">17 Apr 2017</div>
<div class="a tl" style="left:197px;top:555px">31 May 2017</div>
<div class="a tl" style="left:261px;top:555px">14 Jul 2017</div>
<div class="a tl" style="left:325px;top:555px">29 Aug 2017</div>
<div class="a tl" style="left:389px;top:555px">12 Oct 2017</div>
<div class="a tl" style="left:453px;top:555px">27 Nov 2017</div>
<div class="a tl" style="left:517px;top:555px">11 Jan 2018</div>
<div class="a tl" style="left:581px;top:555px">26 Feb 2018</div>
<div class="a tl" style="left:645px;top:555px">11 Apr 2018</div>
<div class="a tl" style="left:709px;top:555px">25 May 2018</div>
<div class="a tl" style="left:773px;top:555px">10 Jul 2018</div>
<div class="a tl" style="left:837px;top:555px">23 Aug 2018</div>
<div class="a tl" style="left:901px;top:555px">2 Oct 2018</div>
<div class="a tl" style="left:965px;top:555px">8 Nov 2018</div>
<div class="a tl" style="left:1029px;top:555px">15 Dec 2018</div>

<!-- chart header -->
<svg class="a" style="left:9px;top:35px" width="8" height="5"><path d="M0 5 L4 1 L8 5 Z" fill="#000"/></svg>
<div class="a tl" style="left:22px;top:33px;letter-spacing:0.15px">AUDUSD,Daily</div><div class="a tl" style="left:93px;top:33px;letter-spacing:-0.2px;word-spacing:0.5px">0.70367 0.70566 0.70367 0.70542</div>
<div class="a tl" style="left:10px;top:407px;letter-spacing:-0.1px">RSI(14) 29.7373</div>

<!-- trade panel -->
<div class="a" style="left:9px;top:49px;width:52px;height:24px;background:linear-gradient(#5a5aff,#2020e0)"></div>
<div class="a" style="left:176px;top:49px;width:52px;height:24px;background:linear-gradient(#5a5aff,#2020e0)"></div>
<div class="a" style="left:9px;top:73px;width:109px;height:40px;background:linear-gradient(#2a2ae8,#0000b4)"></div>
<div class="a" style="left:120px;top:73px;width:108px;height:40px;background:linear-gradient(#2a2ae8,#0000b4)"></div>
<div class="a" style="left:13px;top:73px;width:44px;height:1px;background:#8c8cff"></div>
<div class="a" style="left:180px;top:73px;width:44px;height:1px;background:#8c8cff"></div>
<div class="a" style="left:21px;top:54px;font-size:11.5px;line-height:14px;color:#fff;letter-spacing:-0.3px">SELL</div>
<div class="a" style="left:190px;top:54px;font-size:11.5px;line-height:14px;color:#fff;letter-spacing:-0.3px">BUY</div>
<div class="a" style="left:63px;top:49px;width:111px;height:22px;background:#fff;border:1px solid #a8a8a8"></div>
<div class="a" style="left:64px;top:50px;width:21px;height:20px;background:linear-gradient(#f2f2f2 0%,#ebebeb 45%,#dadada 50%,#d4d4d4 100%);border-right:1px solid #a8a8a8;box-shadow:inset 0 0 0 1px #fff"></div>
<div class="a" style="left:152px;top:50px;width:21px;height:20px;background:linear-gradient(#f2f2f2 0%,#ebebeb 45%,#dadada 50%,#d4d4d4 100%);border-left:1px solid #a8a8a8;box-shadow:inset 0 0 0 1px #fff"></div>
<svg class="a" style="left:70px;top:57px" width="8" height="5"><path d="M1 1 L7 1 L4 4 Z" fill="#5a6fb0"/></svg>
<svg class="a" style="left:159px;top:57px" width="8" height="5"><path d="M1 4 L7 4 L4 1 Z" fill="#5a6fb0"/></svg>
<div class="a" style="left:125px;top:53px;font-size:12px;line-height:14px;color:#000">0.50</div>
<div class="a" style="left:29px;top:93px;font-size:11px;line-height:12px;color:#fff;font-weight:bold;letter-spacing:0.3px">0.70</div>
<div class="a" style="left:57px;top:75px;font-size:33px;line-height:34px;color:#fff;transform:scaleX(0.95);transform-origin:0 0">54</div>
<div class="a" style="left:97px;top:77px;font-size:11px;line-height:12px;color:#fff;font-weight:bold">2</div>
<div class="a" style="left:139px;top:93px;font-size:11px;line-height:12px;color:#fff;font-weight:bold;letter-spacing:0.3px">0.70</div>
<div class="a" style="left:167px;top:75px;font-size:33px;line-height:34px;color:#fff;transform:scaleX(0.95);transform-origin:0 0">56</div>
<div class="a" style="left:207px;top:77px;font-size:11px;line-height:12px;color:#fff;font-weight:bold">2</div>

<!-- tabs bar -->
<div class="a" style="left:0;top:572px;width:1354px;height:1px;background:#fff"></div>
<div class="a" style="left:1px;top:573px;width:1353px;height:1px;background:#000"></div>
<div class="a" style="left:0;top:574px;width:1354px;height:22px;background:#f0f0f0"></div>
<div class="a" style="left:0;top:593px;width:1354px;height:1px;background:#fafafa"></div>
<div class="a" style="left:1px;top:574px;width:1px;height:18px;background:#a0a0a0"></div><div class="a" style="left:2px;top:574px;width:1px;height:18px;background:#696969"></div><div class="a" style="left:0;top:591px;width:3px;height:1px;background:#a0a0a0"></div>
<div class="a" style="left:99px;top:573px;width:104px;height:19px;background:#fff;border:1px solid #000;border-top:none"></div>
<div class="a tab" style="left:19px">EURUSD,H4</div>
<div class="a tab" style="left:110px;color:#000">AUDUSD,Daily</div>
<div class="a tab" style="left:213px">USDCHF,H4</div>
<div class="a tab" style="left:302px">USDCAD,H1</div>
<div class="a tab" style="left:393px">USDCNH,H4</div>
<div class="a tab" style="left:486px">USDJPY,M15</div>
<div class="a tab" style="left:582px">XAUUSD,H1</div>
<div class="a tab" style="left:674px">GBPUSD,Weekly</div>
<div class="a tab" style="left:790px">SP500,H1</div>
<div class="a" style="left:292px;top:577px;width:1px;height:13px;background:#808080"></div>
<div class="a" style="left:383px;top:577px;width:1px;height:13px;background:#808080"></div>
<div class="a" style="left:475px;top:577px;width:1px;height:13px;background:#808080"></div>
<div class="a" style="left:571px;top:577px;width:1px;height:13px;background:#808080"></div>
<div class="a" style="left:664px;top:577px;width:1px;height:13px;background:#808080"></div>
<div class="a" style="left:779px;top:577px;width:1px;height:13px;background:#808080"></div>
<div class="a" style="left:856px;top:577px;width:1px;height:13px;background:#808080"></div>
<svg class="a" style="left:1320px;top:578px" width="30" height="9"><path d="M2 4.5 L6 0.5 L6 8.5 Z" fill="#a0a0a0"/><path d="M21 0.5 L25 4.5 L21 8.5 Z" fill="#a0a0a0"/></svg>
<div class="a" style="left:1352px;top:574px;width:1px;height:19px;background:#e3e3e3"></div>
</body></html>
